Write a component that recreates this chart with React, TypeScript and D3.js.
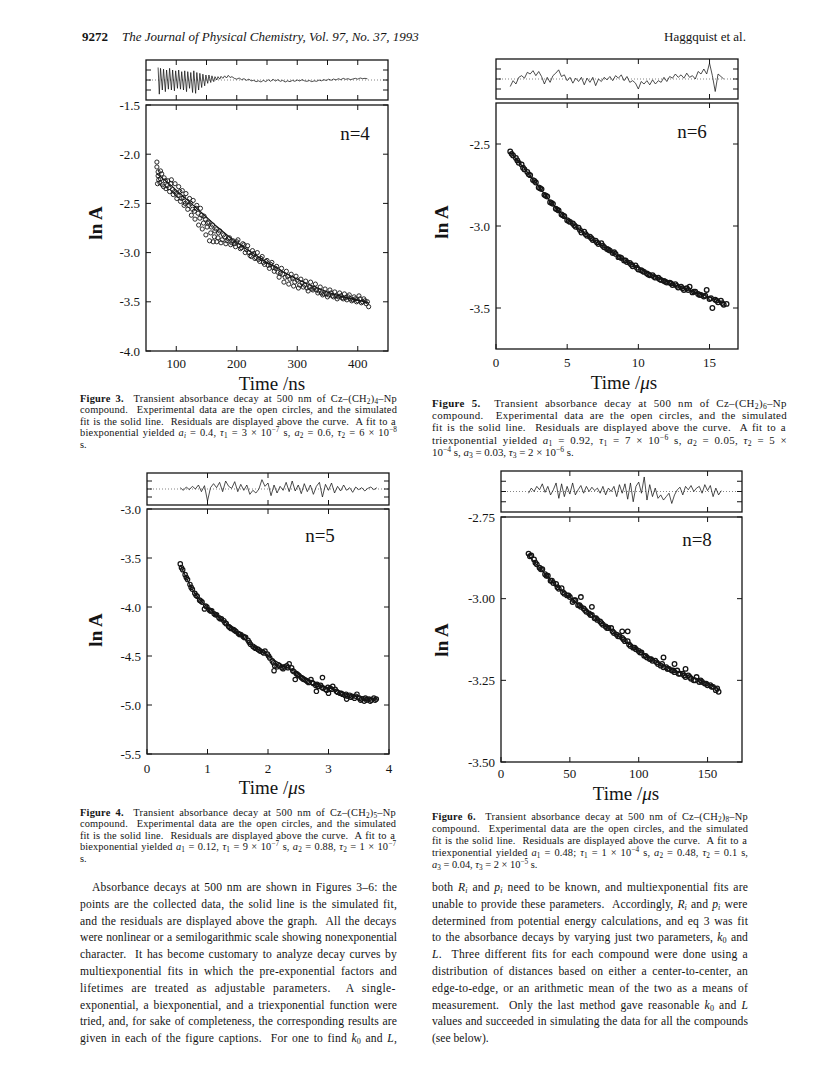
import * as d3 from 'd3';

type Pt = [number, number];

// ---------- Figure 3: n = 4 (time / ns) ----------
const n4Points: Pt[] = [
  [68, -2.08], [68, -2.13], [69, -2.3], [70, -2.22], [71, -2.26], [74, -2.25], [74, -2.17], [77, -2.31],
  [80, -2.24], [83, -2.35], [86, -2.27], [89, -2.38], [92, -2.26], [95, -2.41], [98, -2.3], [101, -2.45],
  [104, -2.33], [107, -2.48], [110, -2.37], [113, -2.52], [116, -2.4], [119, -2.56], [122, -2.45],
  [125, -2.62], [128, -2.47], [131, -2.66], [134, -2.52], [137, -2.72], [140, -2.55], [143, -2.76],
  [146, -2.63], [149, -2.82], [152, -2.7], [155, -2.88], [158, -2.74], [161, -2.89], [164, -2.78],
  [167, -2.89], [170, -2.8], [174, -2.9], [178, -2.82], [182, -2.91], [186, -2.86], [190, -2.92],
  [194, -2.88], [198, -2.94], [202, -2.87], [206, -2.96], [210, -2.91], [214, -3.0], [218, -2.93],
  [222, -3.03], [226, -2.98], [230, -3.06], [234, -3.0], [238, -3.09], [242, -3.04], [246, -3.12],
  [250, -3.08], [254, -3.16], [258, -3.1], [262, -3.19], [266, -3.14], [270, -3.25], [274, -3.16],
  [278, -3.3], [282, -3.19], [286, -3.32], [290, -3.22], [294, -3.34], [298, -3.24], [302, -3.36],
  [306, -3.27], [310, -3.35], [314, -3.29], [318, -3.39], [322, -3.3], [326, -3.38], [330, -3.32],
  [334, -3.41], [338, -3.35], [342, -3.43], [346, -3.37], [350, -3.45], [354, -3.38], [358, -3.44],
  [362, -3.4], [366, -3.47], [370, -3.41], [374, -3.46], [378, -3.42], [382, -3.48], [386, -3.43],
  [390, -3.49], [394, -3.45], [398, -3.5], [402, -3.44], [406, -3.51], [410, -3.47], [414, -3.52],
  [418, -3.55],
  [70, -2.18], [73, -2.29], [76, -2.2], [79, -2.33], [82, -2.27], [85, -2.32], [88, -2.34], [91, -2.3],
  [94, -2.36], [97, -2.38], [100, -2.4], [103, -2.42], [106, -2.38], [109, -2.45], [112, -2.44], [115, -2.5],
  [118, -2.48], [121, -2.52], [124, -2.5], [127, -2.56], [130, -2.58], [133, -2.55], [136, -2.6], [139, -2.65],
  [142, -2.62], [145, -2.7], [148, -2.66], [151, -2.74], [154, -2.69], [157, -2.8], [160, -2.72], [163, -2.84],
  [166, -2.76], [169, -2.85], [172, -2.78], [176, -2.87], [180, -2.84], [184, -2.88], [188, -2.85],
  [192, -2.9], [196, -2.91], [200, -2.89], [204, -2.93], [208, -2.95], [212, -2.92], [216, -2.97], [220, -3.0],
  [224, -3.04], [228, -3.01], [232, -3.05], [236, -3.07], [240, -3.06], [244, -3.1], [248, -3.09],
  [252, -3.13], [256, -3.12], [260, -3.15], [264, -3.16], [268, -3.2], [272, -3.21], [276, -3.22],
  [280, -3.25], [284, -3.24], [288, -3.27], [292, -3.26], [296, -3.3], [300, -3.28], [304, -3.33],
  [308, -3.31], [312, -3.33], [316, -3.36], [320, -3.35], [324, -3.37], [328, -3.36], [332, -3.38],
  [336, -3.39], [340, -3.41], [344, -3.42], [348, -3.42], [352, -3.43], [356, -3.41], [360, -3.45],
  [364, -3.44], [368, -3.45], [372, -3.44], [376, -3.47], [380, -3.46], [384, -3.45], [388, -3.47],
  [392, -3.48], [396, -3.47], [400, -3.49], [404, -3.47], [408, -3.5], [412, -3.49], [416, -3.5],
];
const n4Fit: Pt[] = [
  [68, -2.2], [90, -2.31], [110, -2.42], [130, -2.53], [150, -2.64], [170, -2.75], [190, -2.85],
  [210, -2.94], [230, -3.02], [250, -3.1], [270, -3.17], [290, -3.24], [310, -3.3], [330, -3.35],
  [350, -3.4], [370, -3.44], [390, -3.47], [418, -3.51],
];
const n4Resid: Pt[] = [
  [70, 0.75], [72, -0.85], [74, 0.7], [77, -0.6], [79, 0.65], [82, -0.7], [84, 0.6], [87, -0.55],
  [89, 0.7], [92, -0.6], [94, 0.6], [97, -0.65], [99, 0.55], [102, -0.5], [104, 0.6], [107, -0.55],
  [109, 0.5], [112, -0.6], [114, 0.55], [117, -0.7], [119, 0.5], [122, -0.5], [124, 0.45], [127, -0.75],
  [129, 0.55], [132, -0.8], [134, 0.45], [137, -0.6], [139, 0.4], [142, -0.45], [144, 0.35], [147, -0.35],
  [149, 0.3], [152, -0.2], [154, 0.3], [157, -0.15], [159, 0.25], [162, -0.1], [164, 0.2], [167, 0.0],
  [169, 0.2], [172, 0.05], [174, 0.22], [177, 0.1], [180, 0.25], [183, 0.12], [186, 0.28], [189, 0.15],
  [192, 0.2], [196, 0.1], [200, 0.05], [204, 0.12], [208, 0.02], [212, 0.08], [216, -0.02], [220, 0.05],
  [224, -0.05], [228, -0.02], [232, -0.1], [236, -0.05], [240, -0.12], [244, -0.02], [248, -0.1],
  [252, 0.02], [256, -0.08], [260, 0.04], [264, -0.06], [268, 0.02], [272, -0.08], [276, -0.02],
  [280, -0.12], [284, -0.05], [288, -0.1], [292, -0.02], [296, -0.08], [300, 0.0], [304, -0.06],
  [308, 0.02], [312, -0.05], [316, -0.08], [320, -0.03], [324, -0.1], [328, -0.05], [332, -0.08],
  [336, 0.0], [340, -0.05], [344, 0.02], [348, -0.03], [352, 0.05], [356, -0.02], [360, 0.06], [364, 0.0],
  [368, 0.08], [372, 0.02], [376, 0.1], [380, 0.04], [384, 0.08], [388, 0.02], [392, 0.06], [396, 0.1],
  [400, 0.05], [404, 0.12], [408, 0.08], [412, 0.1], [416, 0.07],
];

// ---------- Figure 5: n = 6 (time / us) ----------
const n6Points: Pt[] = [
  [1.0, -2.545], [1.2, -2.57], [1.4, -2.585], [1.6, -2.615], [1.8, -2.625], [2.0, -2.655], [2.2, -2.67],
  [2.4, -2.69], [2.6, -2.72], [2.8, -2.735], [3.0, -2.765], [3.2, -2.775], [3.4, -2.81], [3.6, -2.82],
  [3.8, -2.855], [4.0, -2.865], [4.2, -2.895], [4.4, -2.905], [4.6, -2.93], [4.8, -2.94], [5.0, -2.965],
  [5.2, -2.975], [5.4, -2.985], [5.6, -3.005], [5.8, -3.01], [6.0, -3.04], [6.2, -3.035], [6.4, -3.06],
  [6.6, -3.065], [6.8, -3.085], [7.0, -3.09], [7.2, -3.11], [7.4, -3.105], [7.6, -3.13], [7.8, -3.14],
  [8.0, -3.15], [8.2, -3.165], [8.4, -3.17], [8.6, -3.19], [8.8, -3.195], [9.0, -3.21], [9.2, -3.22],
  [9.4, -3.225], [9.6, -3.245], [9.8, -3.24], [10.0, -3.265], [10.2, -3.27], [10.4, -3.28], [10.6, -3.29],
  [10.8, -3.3], [11.0, -3.3], [11.2, -3.315], [11.4, -3.315], [11.6, -3.33], [11.8, -3.335], [12.0, -3.345],
  [12.2, -3.345], [12.4, -3.36], [12.6, -3.355], [12.8, -3.375], [13.0, -3.37], [13.2, -3.39], [13.4, -3.38],
  [13.6, -3.37], [13.8, -3.405], [14.0, -3.4], [14.2, -3.415], [14.4, -3.42], [14.6, -3.43], [14.8, -3.39],
  [15.0, -3.445], [15.2, -3.5], [15.4, -3.45], [15.6, -3.465], [15.8, -3.455], [16.0, -3.48], [16.2, -3.475],
  [1.1, -2.56], [1.5, -2.6], [1.9, -2.645], [2.3, -2.685], [2.7, -2.725], [3.1, -2.77], [3.5, -2.815],
  [3.9, -2.86], [4.3, -2.9], [4.7, -2.935], [5.1, -2.97], [5.5, -2.995], [5.9, -3.025], [6.3, -3.05],
  [6.7, -3.075], [7.1, -3.1], [7.5, -3.12], [7.9, -3.145], [8.3, -3.16], [8.7, -3.19], [9.1, -3.21],
  [9.5, -3.235], [9.9, -3.255], [10.3, -3.275], [10.7, -3.295], [11.1, -3.31], [11.5, -3.325],
  [11.9, -3.34], [12.3, -3.35], [12.7, -3.365], [13.1, -3.38], [13.5, -3.39], [13.9, -3.4], [14.3, -3.42],
  [14.7, -3.425], [15.1, -3.44], [15.5, -3.455], [15.9, -3.47],
];
const n6Fit: Pt[] = [
  [1.0, -2.55], [1.5, -2.6], [2.0, -2.65], [2.5, -2.705], [3.0, -2.76], [3.5, -2.815], [4.0, -2.87],
  [4.5, -2.915], [5.0, -2.96], [5.5, -2.995], [6.0, -3.03], [7.0, -3.095], [8.0, -3.15], [9.0, -3.205],
  [10.0, -3.255], [11.0, -3.3], [12.0, -3.34], [13.0, -3.375], [14.0, -3.405], [15.0, -3.435], [16.0, -3.47],
];
const n6Resid: Pt[] = [
  [1.0, -0.45], [1.2, -0.1], [1.4, -0.3], [1.6, 0.1], [1.8, 0.2], [2.0, 0.05], [2.2, 0.4], [2.4, 0.3],
  [2.6, 0.5], [2.8, 0.2], [3.0, 0.45], [3.2, 0.15], [3.4, -0.3], [3.6, 0.1], [3.8, -0.2], [4.0, 0.2],
  [4.2, 0.35], [4.4, 0.55], [4.6, 0.15], [4.8, 0.25], [5.0, -0.1], [5.2, 0.1], [5.4, -0.25], [5.6, 0.05],
  [5.8, -0.15], [6.0, 0.1], [6.2, -0.35], [6.4, 0.05], [6.6, -0.2], [6.8, 0.1], [7.0, -0.4], [7.2, 0.0],
  [7.4, -0.15], [7.6, 0.1], [7.8, -0.05], [8.0, 0.15], [8.2, -0.1], [8.4, 0.2], [8.6, 0.05], [8.8, 0.25],
  [9.0, -0.1], [9.2, 0.15], [9.4, -0.2], [9.6, -0.1], [9.8, -0.25], [10.0, -0.6], [10.2, -0.15],
  [10.4, -0.3], [10.6, -0.1], [10.8, -0.35], [11.0, -0.05], [11.2, -0.3], [11.4, -0.1], [11.6, -0.2],
  [11.8, 0.1], [12.0, -0.15], [12.2, 0.15], [12.4, 0.05], [12.6, 0.3], [12.8, 0.1], [13.0, 0.25],
  [13.2, 0.05], [13.4, 0.35], [13.6, 0.1], [13.8, 0.2], [14.0, 0.0], [14.2, 0.45], [14.4, 0.3],
  [14.6, 0.6], [14.8, 0.3], [15.0, 0.95], [15.2, 0.2], [15.4, -0.75], [15.6, 0.3], [15.8, 0.15], [16.0, 0.0],
];

// ---------- Figure 4: n = 5 (time / us) ----------
const n5Points: Pt[] = [
  [0.55, -3.56], [0.59, -3.62], [0.63, -3.67], [0.67, -3.72], [0.71, -3.77], [0.75, -3.82], [0.79, -3.86],
  [0.83, -3.89], [0.87, -3.93], [0.91, -3.95], [0.95, -4.02], [0.99, -4.0], [1.03, -4.03], [1.07, -4.04],
  [1.11, -4.07], [1.15, -4.08], [1.19, -4.11], [1.23, -4.12], [1.27, -4.14], [1.31, -4.17], [1.35, -4.2],
  [1.39, -4.22], [1.43, -4.23], [1.47, -4.25], [1.51, -4.27], [1.55, -4.28], [1.59, -4.3], [1.63, -4.31],
  [1.67, -4.34], [1.71, -4.38], [1.75, -4.4], [1.79, -4.42], [1.83, -4.43], [1.87, -4.45], [1.91, -4.46],
  [1.95, -4.45], [1.99, -4.48], [2.03, -4.52], [2.07, -4.55], [2.11, -4.6], [2.15, -4.61], [2.19, -4.6],
  [2.23, -4.62], [2.27, -4.61], [2.31, -4.6], [2.35, -4.58], [2.39, -4.62], [2.43, -4.66], [2.47, -4.68],
  [2.51, -4.7], [2.55, -4.72], [2.59, -4.74], [2.63, -4.75], [2.67, -4.77], [2.71, -4.74], [2.75, -4.78],
  [2.79, -4.8], [2.83, -4.81], [2.87, -4.8], [2.91, -4.83], [2.95, -4.84], [2.99, -4.82], [3.03, -4.83],
  [3.07, -4.81], [3.11, -4.84], [3.15, -4.87], [3.19, -4.88], [3.23, -4.89], [3.27, -4.9], [3.31, -4.91],
  [3.35, -4.9], [3.39, -4.91], [3.43, -4.93], [3.47, -4.89], [3.51, -4.93], [3.55, -4.94], [3.59, -4.96],
  [3.63, -4.95], [3.67, -4.94], [3.71, -4.95], [3.75, -4.93], [3.79, -4.94],
  [2.1, -4.65], [2.45, -4.74], [2.8, -4.86], [2.9, -4.72], [3.0, -4.88], [3.3, -4.94],
  [0.57, -3.6], [0.65, -3.7], [0.73, -3.8], [0.81, -3.88], [0.89, -3.94], [0.97, -3.99], [1.05, -4.04],
  [1.13, -4.08], [1.21, -4.12], [1.29, -4.16], [1.37, -4.21], [1.45, -4.24], [1.53, -4.28], [1.61, -4.31],
  [1.69, -4.36], [1.77, -4.41], [1.85, -4.44], [1.93, -4.47], [2.01, -4.5], [2.09, -4.57], [2.17, -4.59],
  [2.25, -4.63], [2.33, -4.62], [2.41, -4.65], [2.49, -4.69], [2.57, -4.73], [2.65, -4.76], [2.73, -4.77],
  [2.81, -4.79], [2.89, -4.82], [2.97, -4.85], [3.05, -4.84], [3.13, -4.86], [3.21, -4.88], [3.29, -4.89],
  [3.37, -4.92], [3.45, -4.91], [3.53, -4.95], [3.61, -4.93], [3.69, -4.96], [3.77, -4.95],
];
const n5Fit: Pt[] = [
  [0.55, -3.57], [0.65, -3.7], [0.76, -3.83], [0.88, -3.93], [1.0, -4.0], [1.16, -4.09], [1.32, -4.17],
  [1.54, -4.29], [1.76, -4.4], [1.98, -4.49], [2.2, -4.58], [2.48, -4.67], [2.74, -4.76], [3.02, -4.83],
  [3.36, -4.89], [3.6, -4.92], [3.8, -4.94],
];
const n5Resid: Pt[] = [
  [0.55, 0.1], [0.6, -0.1], [0.65, 0.15], [0.7, -0.05], [0.75, 0.2], [0.8, 0.0], [0.85, 0.3], [0.9, -0.2],
  [0.95, 0.25], [1.0, -0.9], [1.05, 0.1], [1.1, 0.4], [1.15, 0.1], [1.2, 0.5], [1.25, -0.2], [1.3, 0.6],
  [1.35, 0.2], [1.4, 0.05], [1.45, 0.55], [1.5, -0.2], [1.55, 0.35], [1.6, -0.1], [1.65, 0.3], [1.7, -0.4],
  [1.75, -0.1], [1.8, -0.3], [1.85, 0.0], [1.9, 0.7], [1.95, 0.2], [2.0, 0.45], [2.05, -0.5], [2.1, 0.3],
  [2.15, -0.3], [2.2, 0.2], [2.25, -0.1], [2.3, 0.5], [2.35, -0.2], [2.4, 0.6], [2.45, -0.15], [2.5, 0.3],
  [2.55, -0.35], [2.6, 0.4], [2.65, -0.2], [2.7, 0.3], [2.75, -0.4], [2.8, 0.2], [2.85, 0.5], [2.9, -0.6],
  [2.95, 0.35], [3.0, -0.1], [3.05, 0.45], [3.1, -0.3], [3.15, 0.2], [3.2, -0.15], [3.25, 0.3], [3.3, -0.1],
  [3.35, 0.1], [3.4, -0.25], [3.45, 0.15], [3.5, -0.05], [3.55, 0.1], [3.6, -0.15], [3.65, 0.05],
  [3.7, 0.15], [3.75, -0.05], [3.8, 0.1],
];

// ---------- Figure 6: n = 8 (time / us) ----------
const n8Points: Pt[] = [
  [20, -2.862], [22, -2.868], [24, -2.88], [26, -2.895], [28, -2.905], [30, -2.91], [32, -2.925], [34, -2.93],
  [36, -2.945], [38, -2.952], [40, -2.955], [42, -2.97], [44, -2.968], [46, -2.985], [48, -2.99], [50, -2.995],
  [52, -3.01], [54, -3.005], [56, -3.02], [58, -3.025], [60, -3.03], [62, -3.04], [64, -3.045], [66, -3.05],
  [68, -3.06], [70, -3.065], [72, -3.07], [74, -3.08], [76, -3.085], [78, -3.09], [80, -3.09], [82, -3.105],
  [84, -3.11], [86, -3.115], [88, -3.12], [90, -3.13], [92, -3.13], [94, -3.145], [96, -3.15], [98, -3.155],
  [100, -3.16], [102, -3.165], [104, -3.175], [106, -3.18], [108, -3.185], [110, -3.19], [112, -3.19],
  [114, -3.2], [116, -3.205], [118, -3.21], [120, -3.21], [122, -3.215], [124, -3.22], [126, -3.225],
  [128, -3.22], [130, -3.23], [132, -3.23], [134, -3.24], [136, -3.235], [138, -3.245], [140, -3.25],
  [142, -3.24], [144, -3.255], [146, -3.255], [148, -3.26], [150, -3.265], [152, -3.265], [154, -3.27],
  [156, -3.28], [158, -3.285],
  [58, -2.995], [66, -3.025], [88, -3.1], [92, -3.1], [118, -3.18], [126, -3.2], [134, -3.215],
  [21, -2.87], [25, -2.89], [29, -2.91], [33, -2.93], [37, -2.945], [41, -2.965], [45, -2.98], [49, -2.99],
  [53, -3.005], [57, -3.02], [61, -3.035], [65, -3.05], [69, -3.06], [73, -3.075], [77, -3.09], [81, -3.1],
  [85, -3.115], [89, -3.125], [93, -3.14], [97, -3.15], [101, -3.165], [105, -3.175], [109, -3.185],
  [113, -3.195], [117, -3.2], [121, -3.215], [125, -3.22], [129, -3.23], [133, -3.235], [137, -3.24],
  [141, -3.25], [145, -3.25], [149, -3.26], [153, -3.27], [157, -3.275],
];
const n8Fit: Pt[] = [
  [19.6, -2.866], [30, -2.915], [40, -2.96], [52, -3.003], [65, -3.045], [77, -3.087], [89, -3.126],
  [101, -3.163], [115, -3.197], [130, -3.226], [145, -3.25], [158, -3.275],
];
const n8Resid: Pt[] = [
  [20, -0.1], [22, 0.2], [24, 0.0], [26, 0.3], [28, 0.1], [30, 0.45], [32, -0.05], [34, 0.3], [36, -0.2],
  [38, 0.1], [40, 0.5], [42, -0.4], [44, 0.45], [46, -0.3], [48, 0.3], [50, -0.15], [52, 0.5], [54, -0.2],
  [56, 0.1], [58, 0.35], [60, -0.1], [62, 0.3], [64, 0.0], [66, 0.25], [68, 0.05], [70, 0.2], [72, -0.1],
  [74, 0.3], [76, -0.2], [78, 0.2], [80, 0.0], [82, 0.3], [84, -0.3], [86, 0.4], [88, -0.1], [90, 0.45],
  [92, -0.45], [94, 0.5], [96, -0.6], [98, 0.3], [100, 0.55], [102, -0.1], [104, 0.85], [106, -0.5],
  [108, 0.4], [110, -0.3], [112, 0.2], [114, -0.4], [116, -0.2], [118, -0.5], [120, -0.3], [122, -0.1],
  [124, -0.7], [126, -0.2], [128, 0.1], [130, 0.25], [132, -0.2], [134, 0.3], [136, 0.1], [138, 0.35],
  [140, 0.0], [142, 0.2], [144, 0.3], [146, -0.1], [148, 0.4], [150, 0.05], [152, 0.35], [154, -0.3],
  [156, 0.2], [158, -0.2], [160, 0.05],
];

// ---------- page text ----------
const fig3Caption = [
  '**Figure 3.**  Transient absorbance decay at 500 nm of Cz–(CH{2}){4}–Np',
  'compound.  Experimental data are the open circles, and the simulated',
  'fit is the solid line.  Residuals are displayed above the curve.  A fit to a',
  'biexponential yielded _a_{_i_} = 0.4, _τ_{1} = 3 × 10[−7] s, _a_{2} = 0.6, _τ_{2} = 6 × 10[−8]',
  's.',
];
const fig5Caption = [
  '**Figure 5.**  Transient absorbance decay at 500 nm of Cz–(CH{2}){6}–Np',
  'compound.  Experimental data are the open circles, and the simulated',
  'fit is the solid line.  Residuals are displayed above the curve.  A fit to a',
  'triexponential yielded _a_{1} = 0.92, _τ_{1} = 7 × 10[−6] s, _a_{2} = 0.05, _τ_{2} = 5 ×',
  '10[−4] s, _a_{3} = 0.03, _τ_{3} = 2 × 10[−6] s.',
];
const fig4Caption = [
  '**Figure 4.**  Transient absorbance decay at 500 nm of Cz–(CH{2}){5}–Np',
  'compound.  Experimental data are the open circles, and the simulated',
  'fit is the solid line.  Residuals are displayed above the curve.  A fit to a',
  'biexponential yielded _a_{1} = 0.12, _τ_{1} = 9 × 10[−7] s, _a_{2} = 0.88, _τ_{2} = 1 × 10[−7]',
  's.',
];
const fig6Caption = [
  '**Figure 6.**  Transient absorbance decay at 500 nm of Cz–(CH{2}){8}–Np',
  'compound.  Experimental data are the open circles, and the simulated',
  'fit is the solid line.  Residuals are displayed above the curve.  A fit to a',
  'triexponential yielded _a_{1} = 0.48; _τ_{1} = 1 × 10[−4] s, _a_{2} = 0.48, _τ_{2} = 0.1 s,',
  '_a_{3} = 0.04, _τ_{3} = 2 × 10[−5] s.',
];
const bodyLeft = [
  'Absorbance decays at 500 nm are shown in Figures 3–6: the',
  'points are the collected data, the solid line is the simulated fit,',
  'and the residuals are displayed above the graph.  All the decays',
  'were nonlinear or a semilogarithmic scale showing nonexponential',
  'character.  It has become customary to analyze decay curves by',
  'multiexponential fits in which the pre-exponential factors and',
  'lifetimes are treated as adjustable parameters.  A single-',
  'exponential, a biexponential, and a triexponential function were',
  'tried, and, for sake of completeness, the corresponding results are',
  'given in each of the figure captions.  For one to find _k_{0} and _L_,',
];
const bodyRight = [
  'both _R_{_i_} and _p_{_i_} need to be known, and multiexponential fits are',
  'unable to provide these parameters.  Accordingly, _R_{_i_} and _p_{_i_} were',
  'determined from potential energy calculations, and eq 3 was fit',
  'to the absorbance decays by varying just two parameters, _k_{0} and',
  '_L_.  Three different fits for each compound were done using a',
  'distribution of distances based on either a center-to-center, an',
  'edge-to-edge, or an arithmetic mean of the two as a means of',
  'measurement.  Only the last method gave reasonable _k_{0} and _L_',
  'values and succeeded in simulating the data for all the compounds',
  '(see below).',
];

const serif = '"Liberation Serif", "Times New Roman", "DejaVu Serif", serif';
const ink = '#141414';

// tiny markup: **bold**, _italic_, {sub}, {_italic sub_}, [sup]
const markup = /\*\*(.+?)\*\*|\{_(.+?)_\}|\{(.+?)\}|\[(.+?)\]|_(.+?)_/g;

interface Seg { text: string; bold?: boolean; italic?: boolean; shift?: number }

function parse(s: string): Seg[] {
  const out: Seg[] = [];
  let last = 0;
  for (const m of s.matchAll(markup)) {
    const i = m.index ?? 0;
    if (i > last) out.push({ text: s.slice(last, i) });
    if (m[1]) out.push({ text: m[1], bold: true });
    else if (m[2]) out.push({ text: m[2], italic: true, shift: -1 });
    else if (m[3]) out.push({ text: m[3], shift: -1 });
    else if (m[4]) out.push({ text: m[4], shift: 1 });
    else if (m[5]) out.push({ text: m[5], italic: true });
    last = i + m[0].length;
  }
  if (last < s.length) out.push({ text: s.slice(last) });
  return out;
}

let ctx: CanvasRenderingContext2D | null = null;
function measure(segs: Seg[], size: number) {
  if (!ctx) ctx = document.createElement('canvas').getContext('2d');
  if (!ctx) return 0;
  let w = 0;
  for (const g of segs) {
    const fs = g.shift ? size * 0.7 : size;
    ctx.font = `${g.italic ? 'italic ' : ''}${g.bold ? 'bold ' : ''}${fs}px ${serif}`;
    w += ctx.measureText(g.text).width;
  }
  return w;
}

function Paragraph({ lines, x, y, width, size, lead, indent = 0, justifyLast = false }: {
  lines: string[]; x: number; y: number; width: number; size: number; lead: number; indent?: number; justifyLast?: boolean;
}) {
  return (
    <g fontFamily={serif} fontSize={size} fill={ink}>
      {lines.map((l, i) => {
        const segs = parse(l);
        const justify = i < lines.length - 1 || justifyLast;
        const dx = i === 0 ? indent : 0;
        const chars = segs.reduce((n, g) => n + g.text.length, 0);
        const spaces = segs.reduce((n, g) => n + (g.text.match(/ /g)?.length ?? 0), 0);
        const natural = measure(segs, size);
        const extra = justify && natural > 0 ? width - dx - natural : 0;
        // share the slack between letters and word gaps
        const ls = extra > 0 ? Math.min(0.35, (extra * 0.4) / chars) : 0;
        const ws = spaces > 0 ? (extra - ls * chars) / spaces : 0;
        return (
          <text key={i} x={x + dx} y={y + i * lead}
            style={{ whiteSpace: 'pre', wordSpacing: `${ws}px`, letterSpacing: `${ls}px` }}>
            {segs.map((g, k) => (
              <tspan key={k} fontWeight={g.bold ? 'bold' : undefined} fontStyle={g.italic ? 'italic' : undefined}
                fontSize={g.shift ? size * 0.7 : undefined}
                baselineShift={g.shift ? (g.shift < 0 ? -size * 0.17 : size * 0.34) : undefined}>{g.text}</tspan>
            ))}
          </text>
        );
      })}
    </g>
  );
}

interface ChartProps {
  left: number; right: number;
  residTop: number; residBottom: number;
  mainTop: number; mainBottom: number;
  xDomain: [number, number]; yDomain: [number, number];
  xTicks: number[]; xTicksTop: number[]; residXTicks: number[];
  yTicks: number[]; yDigits: number;
  points: Pt[]; fit: Pt[]; resid: Pt[];
  dotR: number; dotW: number;
  xLabelY: number; unit: 'ns' | 'us'; titleX: number; titleY: number;
  lnA: [number, number]; nLabel: string; nPos: [number, number];
}

function DecayChart(p: ChartProps) {
  const x = d3.scaleLinear().domain(p.xDomain).range([p.left, p.right]);
  const y = d3.scaleLinear().domain(p.yDomain).range([p.mainBottom, p.mainTop]);
  const r = d3.scaleLinear().domain([-1.2, 1.2]).range([p.residBottom, p.residTop]);
  const fitLine = d3.line<Pt>().x(d => x(d[0])).y(d => y(d[1])).curve(d3.curveMonotoneX);
  const residLine = d3.line<Pt>().x(d => x(d[0])).y(d => r(d[1]));
  const t = 5;
  const w = p.right - p.left;
  return (
    <g>
      {/* residual strip */}
      <line x1={p.left} x2={p.right} y1={r(0)} y2={r(0)} stroke="#666" strokeWidth={0.8} strokeDasharray="1 2" />
      <path d={residLine(p.resid) ?? ''} fill="none" stroke={ink} strokeWidth={0.75} strokeLinejoin="round" />
      <rect x={p.left} y={p.residTop} width={w} height={p.residBottom - p.residTop} fill="none" stroke={ink} strokeWidth={1.3} />
      <g stroke={ink} strokeWidth={1}>
        {p.residXTicks.map(v => (
          <g key={v}>
            <line x1={x(v)} x2={x(v)} y1={p.residTop} y2={p.residTop + t} />
            <line x1={x(v)} x2={x(v)} y1={p.residBottom} y2={p.residBottom - t} />
          </g>
        ))}
        {[-0.6, 0, 0.6].map(v => (
          <g key={v}>
            <line x1={p.left} x2={p.left + t} y1={r(v)} y2={r(v)} />
            <line x1={p.right} x2={p.right - t} y1={r(v)} y2={r(v)} />
          </g>
        ))}
      </g>

      {/* main panel */}
      <rect x={p.left} y={p.mainTop} width={w} height={p.mainBottom - p.mainTop} fill="none" stroke={ink} strokeWidth={1.3} />
      <g stroke={ink} strokeWidth={1}>
        {p.xTicks.map(v => <line key={'b' + v} x1={x(v)} x2={x(v)} y1={p.mainBottom} y2={p.mainBottom - t} />)}
        {p.xTicksTop.map(v => <line key={'t' + v} x1={x(v)} x2={x(v)} y1={p.mainTop} y2={p.mainTop + t} />)}
        {p.yTicks.map(v => (
          <g key={v}>
            <line x1={p.left} x2={p.left + t} y1={y(v)} y2={y(v)} />
            <line x1={p.right} x2={p.right - t} y1={y(v)} y2={y(v)} />
          </g>
        ))}
      </g>
      <g fill="none" stroke={ink} strokeWidth={p.dotW}>
        {p.points.map((d, i) => <circle key={i} cx={x(d[0])} cy={y(d[1])} r={p.dotR} />)}
      </g>
      <path d={fitLine(p.fit) ?? ''} fill="none" stroke={ink} strokeWidth={1.1} />

      <g fontFamily={serif} fill={ink} fontSize={13}>
        {p.yTicks.map(v => (
          <text key={v} x={p.left - 6} y={y(v)} dy="0.35em" textAnchor="end">{v.toFixed(p.yDigits)}</text>
        ))}
        {p.xTicks.map(v => (
          <text key={v} x={x(v)} y={p.xLabelY} textAnchor="middle">{String(v)}</text>
        ))}
      </g>
      <text x={p.titleX} y={p.titleY} textAnchor="middle" fontFamily={serif} fontSize={19} fill={ink}>
        {p.unit === 'ns' ? 'Time /ns' : <>Time /<tspan fontStyle="italic">μ</tspan>s</>}
      </text>
      <text transform={`translate(${p.lnA[0]},${p.lnA[1]}) rotate(-90)`} textAnchor="middle"
        fontFamily={serif} fontSize={19} fontWeight="bold" fill={ink}>ln A</text>
      <text x={p.nPos[0]} y={p.nPos[1]} textAnchor="middle" fontFamily={serif} fontSize={19} fill={ink}>{p.nLabel}</text>
    </g>
  );
}

export default function App() {
  return (
    <svg width={820} height={1068} style={{ position: 'absolute', left: 0, top: 0, background: '#fff' }}>
      <rect width={820} height={1068} fill="#fff" />
      {/* running head */}
      <text x={82} y={41} fontFamily={serif} fontSize={13} fontWeight="bold" fill={ink}>9272</text>
      <text x={122} y={41} fontFamily={serif} fontSize={13} fontStyle="italic" fill={ink}>
        The Journal of Physical Chemistry, Vol. 97, No. 37, 1993
      </text>
      <text x={746} y={41} fontFamily={serif} fontSize={13} textAnchor="end" fill={ink}>Haggquist et al.</text>

      <DecayChart left={146} right={388} residTop={60} residBottom={100} mainTop={105} mainBottom={351}
        xDomain={[50, 450]} yDomain={[-4, -1.5]} xTicks={[100, 200, 300, 400]} xTicksTop={[100, 200, 300, 400]}
        residXTicks={[100, 150, 200, 250, 300, 350, 400]} yTicks={[-4, -3.5, -3, -2.5, -2, -1.5]} yDigits={1}
        points={n4Points} fit={n4Fit} resid={n4Resid} dotR={2.1} dotW={0.9}
        xLabelY={368} unit="ns" titleX={272} titleY={390}
        lnA={[102, 223]} nLabel="n=4" nPos={[355, 140]} />

      <DecayChart left={496} right={738} residTop={59} residBottom={99} mainTop={103} mainBottom={349}
        xDomain={[0, 17]} yDomain={[-3.75, -2.25]} xTicks={[0, 5, 10, 15]} xTicksTop={[5, 10, 15]}
        residXTicks={[5, 10, 15]} yTicks={[-3.5, -3, -2.5]} yDigits={1}
        points={n6Points} fit={n6Fit} resid={n6Resid} dotR={2.3} dotW={1.3}
        xLabelY={367} unit="us" titleX={624} titleY={389}
        lnA={[448, 222]} nLabel="n=6" nPos={[692, 138]} />

      <DecayChart left={147} right={389} residTop={473} residBottom={505} mainTop={509} mainBottom={754}
        xDomain={[0, 4]} yDomain={[-5.5, -3]} xTicks={[0, 1, 2, 3, 4]} xTicksTop={[1, 2, 3]}
        residXTicks={[1, 2, 3]} yTicks={[-5.5, -5, -4.5, -4, -3.5, -3]} yDigits={1}
        points={n5Points} fit={n5Fit} resid={n5Resid} dotR={2.2} dotW={1.2}
        xLabelY={773} unit="us" titleX={272} titleY={794}
        lnA={[102, 630]} nLabel="n=5" nPos={[320, 542]} />

      <DecayChart left={501} right={742} residTop={471} residBottom={512} mainTop={517} mainBottom={762}
        xDomain={[0, 175]} yDomain={[-3.5, -2.75]} xTicks={[0, 50, 100, 150]} xTicksTop={[50, 100, 150]}
        residXTicks={[50, 100, 150]} yTicks={[-3.5, -3.25, -3, -2.75]} yDigits={2}
        points={n8Points} fit={n8Fit} resid={n8Resid} dotR={2.3} dotW={1.3}
        xLabelY={778} unit="us" titleX={626} titleY={800}
        lnA={[448, 640]} nLabel="n=8" nPos={[697, 546]} />

      <Paragraph lines={fig3Caption} x={80} y={402} width={317} size={10.4} lead={11.4} />
      <Paragraph lines={fig5Caption} x={432} y={407} width={355} size={10.9} lead={12.2} />
      <Paragraph lines={fig4Caption} x={80} y={816} width={316} size={10.4} lead={11.4} />
      <Paragraph lines={fig6Caption} x={432} y={820} width={316} size={10.4} lead={12} />

      <Paragraph lines={bodyLeft} x={80} y={891} width={317} size={11.6} lead={16.8} indent={12} justifyLast />
      <Paragraph lines={bodyRight} x={432} y={891} width={316} size={11.6} lead={16.8} />
    </svg>
  );
}
